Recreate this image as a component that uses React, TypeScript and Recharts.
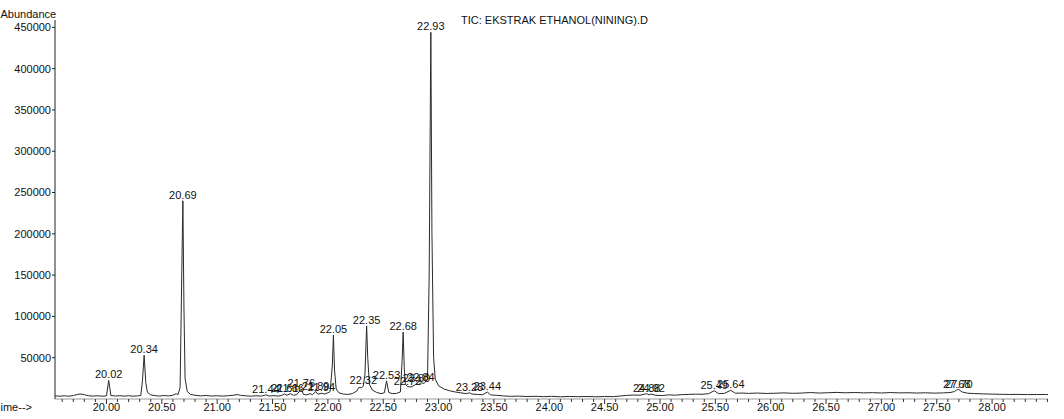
import { LabelList, Line, LineChart, XAxis, YAxis } from "recharts";

// retention time (min) and abundance
const traceTime = [
  19.535, 19.58, 19.62, 19.66, 19.7, 19.74, 19.77, 19.8, 19.84, 19.88, 19.92, 19.96,
  20.0, 20.02, 20.04, 20.08, 20.12, 20.16, 20.2, 20.24, 20.28, 20.31, 20.325, 20.34,
  20.355, 20.37, 20.4, 20.44, 20.48, 20.52, 20.56, 20.6, 20.63, 20.645, 20.665, 20.68,
  20.69, 20.7, 20.71, 20.73, 20.76, 20.8, 20.85, 20.9, 20.95, 21.0, 21.05, 21.1,
  21.15, 21.18, 21.21, 21.26, 21.3, 21.35, 21.4, 21.44, 21.47, 21.51, 21.55, 21.58,
  21.61, 21.63, 21.66, 21.69, 21.72, 21.76, 21.78, 21.81, 21.84, 21.86, 21.89, 21.91,
  21.94, 21.97, 22.0, 22.02, 22.04, 22.05, 22.06, 22.075, 22.1, 22.14, 22.18, 22.22,
  22.26, 22.28, 22.3, 22.32, 22.335, 22.35, 22.36, 22.375, 22.4, 22.44, 22.48, 22.51,
  22.53, 22.55, 22.58, 22.62, 22.655, 22.67, 22.68, 22.69, 22.7, 22.72, 22.75, 22.78,
  22.8, 22.82, 22.84, 22.87, 22.9, 22.915, 22.93, 22.94, 22.955, 22.97, 23.0, 23.05,
  23.1, 23.15, 23.2, 23.25, 23.28, 23.3, 23.35, 23.4, 23.44, 23.47, 23.52, 23.58,
  23.65, 23.72, 23.8, 23.88, 23.95, 24.02, 24.1, 24.18, 24.26, 24.34, 24.42, 24.5,
  24.58, 24.64, 24.7, 24.76, 24.82, 24.88, 24.9, 24.92, 24.96, 25.02, 25.08, 25.14,
  25.2, 25.26, 25.32, 25.38, 25.44, 25.49, 25.53, 25.58, 25.64, 25.68, 25.74, 25.8,
  25.88, 25.96, 26.04, 26.12, 26.2, 26.28, 26.36, 26.44, 26.52, 26.6, 26.68, 26.76,
  26.84, 26.92, 27.0, 27.08, 27.16, 27.24, 27.32, 27.4, 27.48, 27.56, 27.62, 27.66,
  27.68, 27.7, 27.73, 27.78, 27.84, 27.92, 28.0, 28.08, 28.16, 28.24, 28.32, 28.4,
  28.48, 28.505,
];

const traceAbundance = [
  3700, 3400, 3900, 3300, 4200, 5600, 6000, 5200, 3900, 3500, 3900, 3400,
  3800, 22500, 4300, 3600, 4000, 3500, 3900, 3400, 3800, 4200, 22000, 53000,
  20000, 8000, 5000, 4000, 3600, 4200, 3700, 4500, 6500, 5000, 14000, 150000,
  240000, 110000, 25000, 9000, 5500, 4500, 3800, 4200, 3600, 3900, 3500, 4000,
  4600, 5400, 4500, 3800, 3400, 3900, 3500, 5000, 3600, 4100, 3500, 4200,
  6000, 4500, 6500, 4500, 5500, 12000, 5500, 5000, 6500, 5200, 9000, 5800,
  7000, 6000, 7500, 9000, 40000, 77500, 35000, 12000, 7500, 6000, 5500, 6500,
  9500, 14000, 13500, 15500, 30000, 88500, 50000, 18000, 11000, 8000, 6500, 7500,
  22000, 8000, 6500, 6800, 8500, 45000, 81000, 38000, 18000, 15000, 14500, 16500,
  18500, 17500, 19500, 19000, 24000, 150000, 444000, 200000, 50000, 24000, 16000, 12000,
  10000, 8500, 7500, 6500, 7500, 6000, 5500, 5200, 8500, 5000, 4500, 3800,
  3200, 3500, 3000, 3300, 2800, 3200, 2700, 3100, 2800, 3000, 2700, 3000,
  2900, 3600, 4400, 4800, 4600, 6500, 5000, 6000, 4500, 4200, 5000, 4600,
  5300, 5600, 5900, 5700, 6500, 10000, 6500, 6800, 10500, 7000, 7200, 6800,
  7200, 6700, 7000, 7400, 6900, 7200, 7800, 7200, 7600, 8000, 7500, 7900,
  7400, 7700, 7300, 7800, 7400, 7600, 7200, 7500, 7100, 7400, 7800, 9000,
  11000, 11500, 8500, 7000, 6600, 6200, 5900, 5700, 5500, 5600, 5300, 5500,
  5400, 5500,
];

// labelled peak retention times
const peakTimes = [
  20.02, 20.34, 20.69, 21.44, 21.61, 21.66, 21.76, 21.89, 21.94, 22.05, 22.32, 22.35,
  22.53, 22.68, 22.72, 22.8, 22.84, 22.93, 23.28, 23.44, 24.88, 24.92, 25.49, 25.64,
  27.68, 27.7,
];

const timeTicks = [20.0, 20.5, 21.0, 21.5, 22.0, 22.5, 23.0, 23.5, 24.0, 24.5, 25.0, 25.5, 26.0, 26.5, 27.0, 27.5, 28.0];
const abundanceTicks = [50000, 100000, 150000, 200000, 250000, 300000, 350000, 400000, 450000];

const FONT = '"Liberation Sans", Arial, Helvetica, sans-serif';

const data = traceTime.map((t, i) => ({
  t,
  a: traceAbundance[i],
  label: peakTimes.some((p) => Math.abs(p - t) < 1e-9) ? t.toFixed(2) : undefined,
}));

// every 0.1 min from 19.6 to 28.5
const minorTicks: number[] = [];
for (let k = 196; k <= 285; k++) minorTicks.push(k / 10);

const TimeTick = (props: any) => {
  const { x, y, payload } = props;
  const v = payload.value as number;
  const major = timeTicks.some((m) => Math.abs(m - v) < 1e-6);
  return (
    <g>
      <line x1={x} x2={x} y1={y} y2={y + (major ? 5 : 3)} stroke="#333" strokeWidth={1} />
      {major && (
        <text x={x} y={y + 12} textAnchor="middle" fontSize={11} fontFamily={FONT} fill="#111">
          {v.toFixed(2)}
        </text>
      )}
    </g>
  );
};

const PeakLabel = (props: any) => {
  const { x, y, value } = props;
  if (!value) return null;
  return (
    <text x={x} y={y - 2} textAnchor="middle" fontSize={11} fontFamily={FONT} fill="#111">
      {value}
    </text>
  );
};

export default function App() {
  return (
    <div style={{ position: "absolute", left: 0, top: 0, width: 1064, height: 419, background: "#fff", fontFamily: FONT }}>
      <LineChart width={1064} height={419} data={data} margin={{ top: 20, right: 16, bottom: 0, left: 0 }}>
        <XAxis
          type="number"
          dataKey="t"
          domain={[19.535, 28.505]}
          allowDataOverflow
          ticks={minorTicks}
          interval={0}
          tick={TimeTick}
          tickLine={false}
          tickSize={0}
          tickMargin={0}
          height={20}
          axisLine={{ stroke: "#999", strokeWidth: 1 }}
        />
        <YAxis
          type="number"
          domain={[0, 458900]}
          allowDataOverflow
          ticks={abundanceTicks}
          interval={0}
          width={55}
          tickSize={3}
          tickMargin={1}
          tick={{ fill: "#111", fontSize: 11, fontFamily: FONT }}
          tickLine={{ stroke: "#222" }}
          axisLine={{ stroke: "#222", strokeWidth: 1 }}
        />
        <Line
          type="linear"
          dataKey="a"
          stroke="#2a2a2a"
          strokeWidth={1}
          dot={false}
          isAnimationActive={false}
        >
          <LabelList dataKey="label" content={PeakLabel} />
        </Line>
      </LineChart>
      <svg width={1064} height={419} style={{ position: "absolute", left: 0, top: 0, pointerEvents: "none" }}>
        <text x={0.5} y={18} fontSize={11} fontFamily={FONT} fill="#111">
          Abundance
        </text>
        <text x={461} y={23.5} fontSize={11} fontFamily={FONT} fill="#111">
          TIC: EKSTRAK ETHANOL(NINING).D
        </text>
        <text x={0.5} y={411} fontSize={11} fontFamily={FONT} fill="#111">
          ime--&gt;
        </text>
      </svg>
    </div>
  );
}
